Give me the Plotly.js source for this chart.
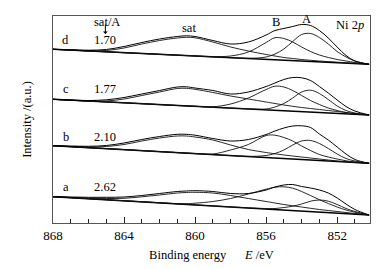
<!DOCTYPE html>
<html>
<head>
<meta charset="utf-8">
<script src="https://cdn.plot.ly/plotly-3.0.1.min.js"></script>
<style>html,body{margin:0;padding:0;background:#fff;}#chart{width:385px;height:269px;}</style>
</head>
<body>
<div id="chart"></div>
<script>
// Binding energy grid (eV)
var energy = [868,867,866,865,864,863,862,861,860.5,860,859,858,857,856,855.5,855,854.5,854,853.5,853,852.5,852,851.5,851,850.2];
var baselineEnergy = [868, 850.2];

// Spectrum d (sat/A = 1.70)
var dEnvelope = [173.7,173.2,172.8,173.5,176.5,180.5,184,186.5,187.2,186.5,182.5,179,181,188,192.5,194.5,196.5,198.5,197.5,192.5,185,176,167.5,162,158.7];
var dSat      = [173.7,173,172.2,172.5,175,179,182.5,185,185.7,185.2,181,176,172,168.5,167,165.5,164.5,163.5,162.7,162,161.4,160.8,160.2,159.7,158.7];
var dPeakB    = [173.7,172.9,172,171.2,170.3,169.5,168.7,167.9,167.5,167.1,166.4,167,171,180.5,185.3,184.5,181,176,171.5,168,165.5,163.5,162,160.5,158.7];
var dPeakA    = [173.7,172.9,172,171.2,170.3,169.5,168.6,167.8,167.4,167,166.1,165.3,164.7,166,169,174,181.5,188.5,189.5,185.5,179,171.5,166,162,158.7];
var dBaseline = [173.7, 158.7];

// Spectrum c (sat/A = 1.77)
var cEnvelope = [123.7,123,122.5,123.2,125.5,129,132.5,136,136.2,135,132.5,129,131,136.5,140,143.5,145.5,145.2,142.5,136.5,130,123,116.5,112,108];
var cSat      = [123.7,122.7,122,122,124,127.5,131,134.5,134.7,133.7,130.5,127,124,121,119.5,118,116.7,115.5,114.5,113.5,112.5,111.5,110.5,109.5,108];
var cPeakB    = [123.7,122.8,121.9,121.1,120.2,119.3,118.4,117.5,117.1,116.7,116.2,119,125,133.5,136.8,136,132.5,127.5,122.5,118.5,115,112.5,110.5,109.3,108];
var cPeakA    = [123.7,122.8,121.9,121.1,120.2,119.3,118.4,117.5,117.1,116.7,115.8,114.9,114.1,114,116,119.5,125,131,132.8,129.5,123.5,117,112.5,110,108];
var cBaseline = [123.7, 108];

// Spectrum b (sat/A = 2.10)
var bEnvelope = [77.3,77,76.7,77.5,80,83.5,86.5,88.7,88.7,87.8,84.5,82,83.5,88.5,92,95,97,97.2,95.5,89,83,76,69,63.5,59.7];
var bSat      = [77.3,76.5,76,76.5,78.5,82,85,87,87,86,83,78,73.5,70.5,69.2,68,67,66,65,64,63,62,61.2,60.5,59.7];
var bPeakB    = [77.3,76.3,75.3,74.4,73.4,72.4,71.4,70.4,69.9,69.5,69,73,78.5,87.5,87.8,85.5,82,77,72.5,68.5,66,64,62.2,61,59.7];
var bPeakA    = [77.3,76.3,75.3,74.4,73.4,72.4,71.4,70.4,69.9,69.4,68.4,67.4,66.6,67.5,69.5,73,78,82,82.5,79.5,74.5,69,64.5,62,59.7];
var bBaseline = [77.3, 59.7];

// Spectrum a (sat/A = 2.62)
var aEnvelope = [26.3,26,25.7,25.7,26,27.5,29.5,31.5,32,32.3,31.5,29.5,29.5,33,36,38,38.5,36.5,35,33,30,25,19,13.5,8];
var aSat      = [26.3,25.5,24.7,24.5,24.7,26.2,28,30,30.5,30.7,30,27.5,24.5,21.5,20,18.5,17.2,16,14.7,13.5,12.5,11.5,10.5,9.5,8];
var aPeakB    = [26.3,25.3,24.3,23.3,22.3,21.3,20.3,19.3,19.3,19.8,21.5,24.5,29,33.8,35.8,36.2,34.8,31.5,27.5,23.3,19.5,16,13,10.8,8];
var aPeakA    = [26.3,25.3,24.3,23.3,22.2,21.2,20.2,19.2,18.7,18.1,17.1,16.1,15.1,14.5,14.5,15.5,16.8,19,21.8,23,21.8,18.5,14.5,11.5,8];
var aBaseline = [26.3, 8];

// Labels
var tickValues = [868, 864, 860, 856, 852];
var spectrumLabels = ['d', 'c', 'b', 'a'];
var ratioLabels = ['1.70', '1.77', '2.10', '2.62'];

var spectra = [
  {env: dEnvelope, sat: dSat, B: dPeakB, A: dPeakA, base: dBaseline},
  {env: cEnvelope, sat: cSat, B: cPeakB, A: cPeakA, base: cBaseline},
  {env: bEnvelope, sat: bSat, B: bPeakB, A: bPeakA, base: bBaseline},
  {env: aEnvelope, sat: aSat, B: aPeakB, A: aPeakA, base: aBaseline}
];

var traces = [];
spectra.forEach(function(s){
  traces.push({x: baselineEnergy, y: s.base, mode:'lines', line:{color:'#000', width:1.6}, hoverinfo:'skip'});
  [s.sat, s.B, s.A].forEach(function(c){
    traces.push({x: energy, y: c, mode:'lines', line:{color:'#111', width:0.9, shape:'spline', smoothing:1}, hoverinfo:'skip'});
  });
  traces.push({x: energy, y: s.env, mode:'lines', line:{color:'#000', width:1, shape:'spline', smoothing:1}, hoverinfo:'skip'});
});

var FONT = 'Liberation Serif, Times New Roman, serif';
var labelY = [183, 134, 86, 36];
var anns = [];
spectrumLabels.forEach(function(t, i){
  anns.push({x: 867.27, y: labelY[i], xref:'x', yref:'y', text: t, showarrow:false, font:{family:FONT, size:12.5, color:'#000'}});
  anns.push({x: 865.1, y: labelY[i], xref:'x', yref:'y', text: ratioLabels[i], showarrow:false, font:{family:FONT, size:12.5, color:'#000'}});
});
anns.push({x: 864.96, y: 201, xref:'x', yref:'y', text:'sat/A', showarrow:false, font:{family:FONT, size:12.5, color:'#000'}});
anns.push({x: 865.05, y: 189, xref:'x', yref:'y', text:'', showarrow:true, ax:0, ay:-11, arrowhead:1, arrowsize:0.8, arrowwidth:1, arrowcolor:'#000'});
anns.push({x: 860.34, y: 195, xref:'x', yref:'y', text:'sat', showarrow:false, font:{family:FONT, size:12.5, color:'#000'}});
anns.push({x: 855.44, y: 201, xref:'x', yref:'y', text:'B', showarrow:false, font:{family:FONT, size:12.5, color:'#000'}});
anns.push({x: 853.75, y: 204, xref:'x', yref:'y', text:'A', showarrow:false, font:{family:FONT, size:12.5, color:'#000'}});
anns.push({x: 851.27, y: 198, xref:'x', yref:'y', text:'Ni 2<i>p</i>', showarrow:false, font:{family:FONT, size:12.5, color:'#000'}});

var layout = {
  width: 385, height: 269,
  margin: {l:53, r:15, t:16, b:46},
  paper_bgcolor:'#fff', plot_bgcolor:'#fff',
  showlegend:false,
  font:{family:FONT, color:'#000'},
  xaxis: {
    range:[868, 850.15], tickmode:'linear', tick0: tickValues[0], dtick: tickValues[0] - tickValues[1],
    ticks:'inside', ticklen:6, tickwidth:1, tickcolor:'#222',
    minor:{tickmode:'linear', tick0:868, dtick:1, ticks:'inside', ticklen:4, tickwidth:1, tickcolor:'#222'},
    showline:true, linecolor:'#555', linewidth:1, mirror:true,
    showgrid:false, zeroline:false,
    tickfont:{family:FONT, size:13, color:'#000'},
    title:{text:'Binding energy\u2003\u2002<i>E</i> /eV', font:{family:FONT, size:12.5, color:'#000'}, standoff:8}
  },
  yaxis: {
    range:[0, 207], showticklabels:false, ticks:'',
    showline:true, linecolor:'#555', linewidth:1, mirror:true,
    showgrid:false, zeroline:false,
    title:{text:'Intensity /(a.u.)', font:{family:FONT, size:12.5, color:'#000'}, standoff:17}
  },
  annotations: anns
};

Plotly.newPlot('chart', traces, layout, {staticPlot:true, displayModeBar:false});
</script>
</body>
</html>
